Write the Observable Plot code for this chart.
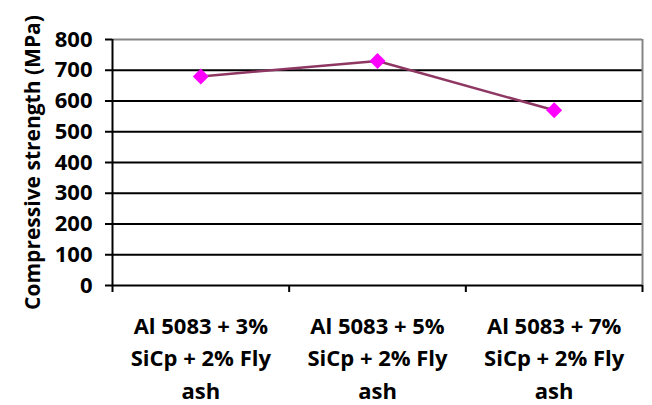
<!DOCTYPE html>
<html>
<head>
<meta charset="utf-8">
<script src="https://cdn.jsdelivr.net/npm/d3@7"></script>
<script src="https://cdn.jsdelivr.net/npm/@observablehq/plot@0.6"></script>
<style>
  html, body { margin: 0; padding: 0; background: #fff; }
</style>
</head>
<body>
<div id="chart"></div>
<script>
// Composite compositions (one per column)
const categories = [
  "Al 5083 + 3%\nSiCp + 2% Fly\nash",
  "Al 5083 + 5%\nSiCp + 2% Fly\nash",
  "Al 5083 + 7%\nSiCp + 2% Fly\nash"
];
// Compressive strength, MPa
const strength = [680, 730, 570];
// Value axis ticks
const yTicks = [0, 100, 200, 300, 400, 500, 600, 700, 800];
const yTitle = "Compressive strength (MPa)";

const font = "'Open Sans', 'DejaVu Sans', sans-serif";
const xIndex = (d, i) => i + 0.5;

const chart = Plot.plot({
  width: 652,
  height: 405,
  marginLeft: 112,
  marginRight: 10,
  marginTop: 39,
  marginBottom: 120,
  style: { fontFamily: font, background: "#fff", color: "#000" },
  x: { domain: [0, categories.length], axis: null },
  y: { domain: [0, 800], axis: null },
  marks: [
    // horizontal gridlines
    Plot.ruleY(yTicks.filter(v => v > 0 && v < 800), { stroke: "#000", strokeWidth: 2 }),
    // plot-area border (top & right)
    Plot.ruleY([800], { stroke: "#858585", strokeWidth: 2 }),
    Plot.ruleX([categories.length], { stroke: "#858585", strokeWidth: 2 }),
    // axis lines
    Plot.ruleX([0], { stroke: "#000", strokeWidth: 2 }),
    Plot.ruleY([0], { stroke: "#000", strokeWidth: 2 }),
    // value axis
    Plot.axisY(yTicks, {
      tickSize: 7, tickPadding: 13, strokeWidth: 2,
      fontSize: 22, fontWeight: "bold", fontFamily: font, fill: "#000"
    }),
    // category boundary ticks
    Plot.axisX(d3.range(categories.length + 1), {
      tickSize: 7, strokeWidth: 2, tickFormat: () => ""
    }),
    // category labels
    Plot.text(categories, {
      x: xIndex, frameAnchor: "bottom", lineAnchor: "top", dy: 25,
      lineHeight: 1.48, fontSize: 22, fontWeight: "bold", fontFamily: font, fill: "#000"
    }),
    // value axis title
    Plot.text([yTitle], {
      frameAnchor: "left", textAnchor: "middle", rotate: -90, dx: -79,
      fontSize: 21, fontWeight: "bold", fontFamily: font, fill: "#000"
    }),
    // series
    Plot.line(strength, { x: xIndex, y: d => d, stroke: "#8e3763", strokeWidth: 2.5 }),
    Plot.dot(strength, { x: xIndex, y: d => d, symbol: "diamond2", r: 7.2, fill: "#ff00ff", stroke: "none" })
  ]
});

document.getElementById("chart").append(chart);
</script>
</body>
</html>
